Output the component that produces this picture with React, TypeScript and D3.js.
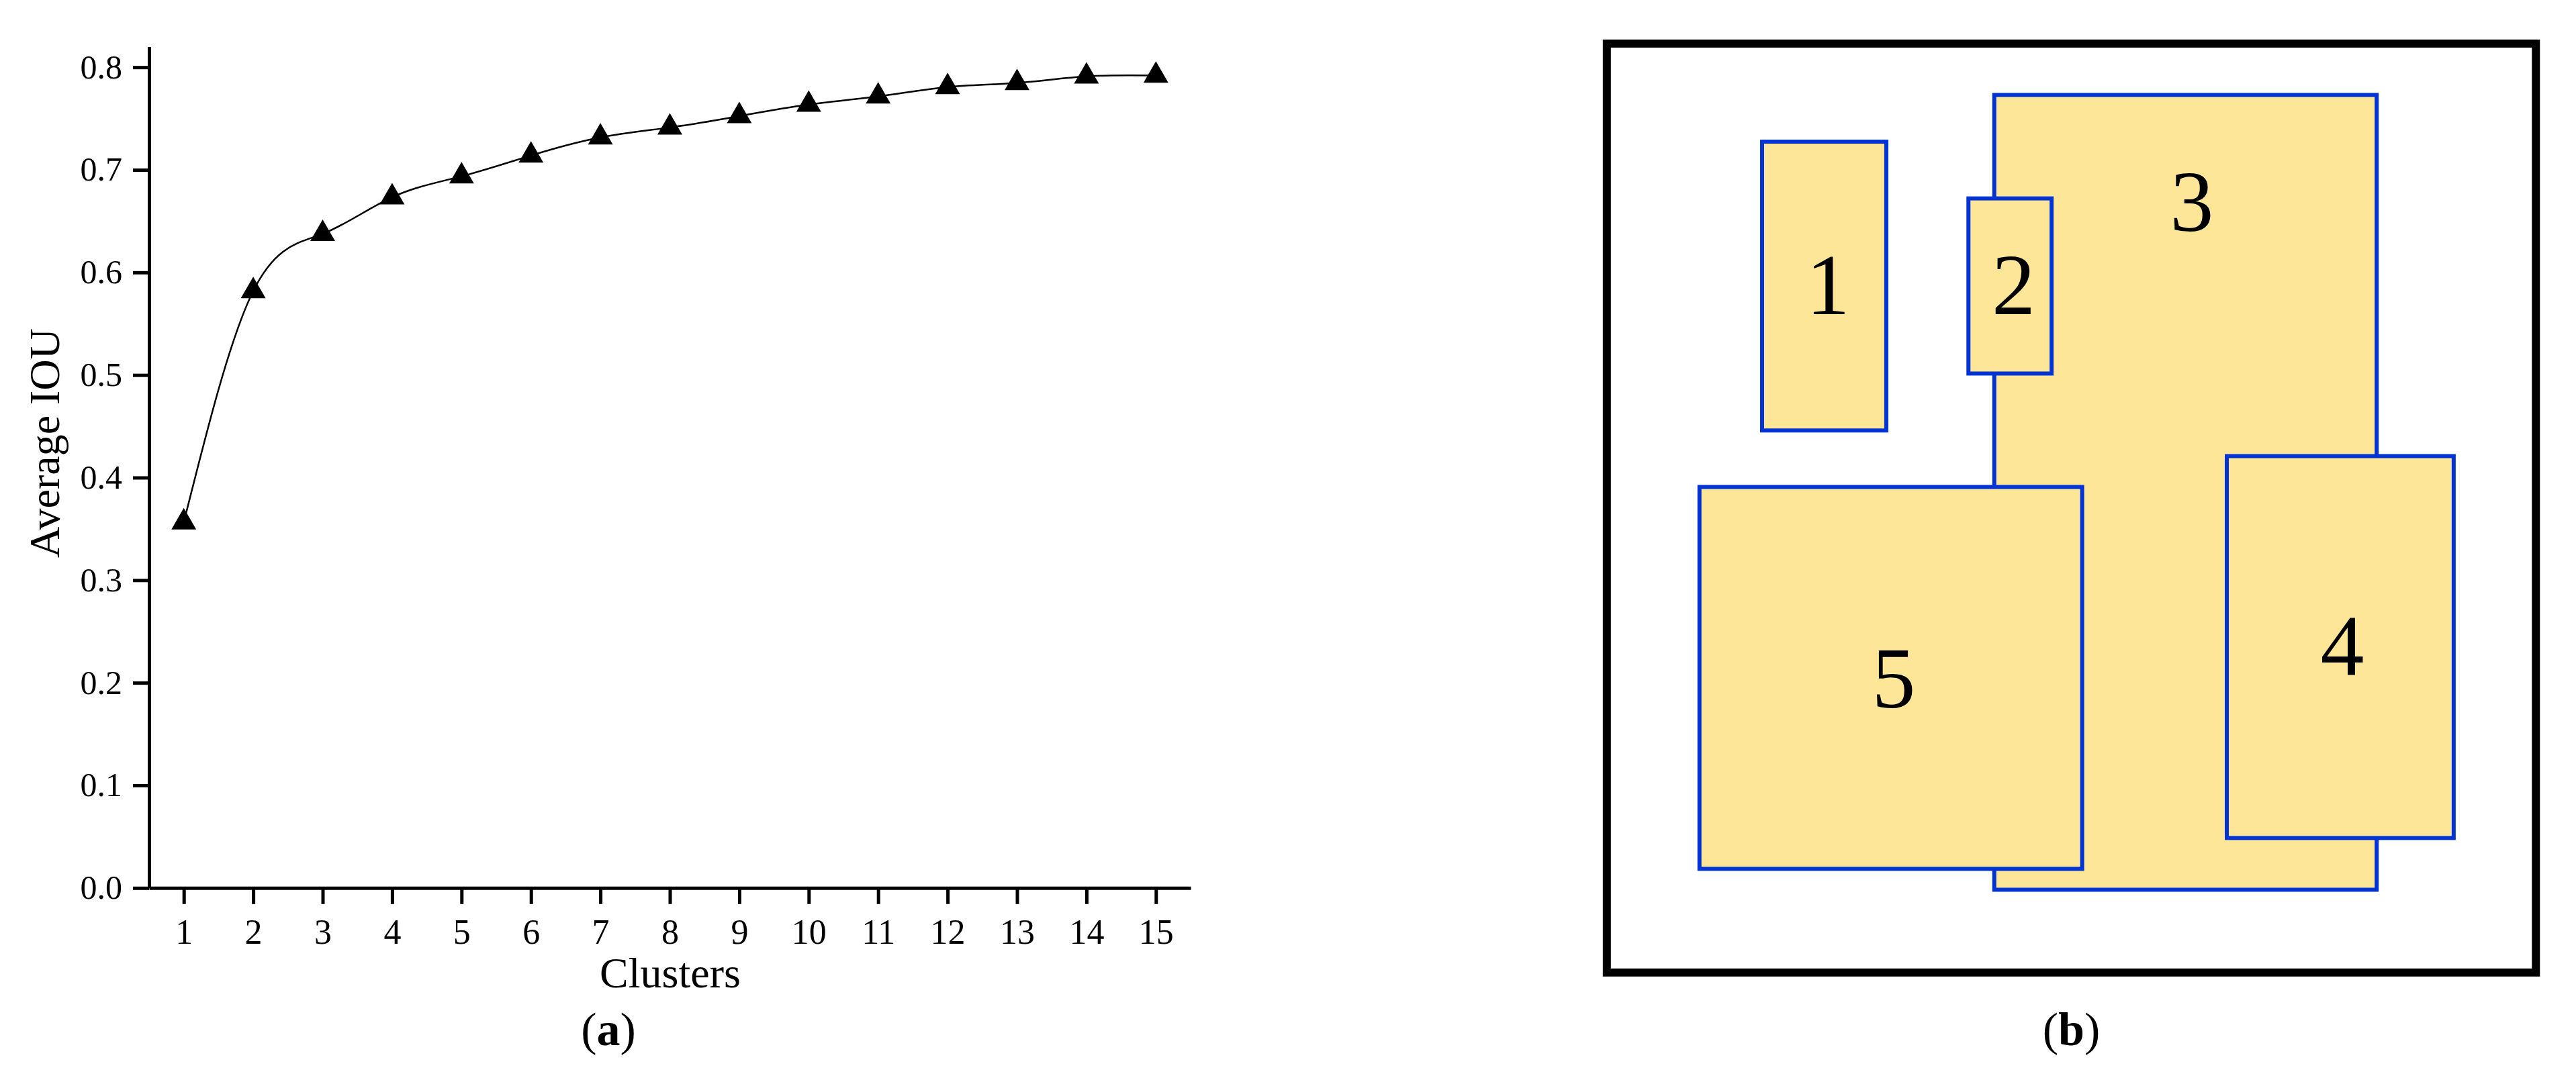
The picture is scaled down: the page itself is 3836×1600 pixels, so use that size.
import React, { useEffect, useRef } from "react";
import * as d3 from "d3";

const width = 3836;
const height = 1600;

// (a) average IOU against number of clusters
const clusters = [1, 2, 3, 4, 5, 6, 7, 8, 9, 10, 11, 12, 13, 14, 15];
const averageIou = [
  0.3565, 0.5819, 0.6376, 0.6733, 0.6937, 0.714, 0.7316, 0.7413, 0.7524,
  0.7636, 0.7716, 0.7807, 0.7847, 0.7911, 0.7919
];
const yTickValues = [0, 0.1, 0.2, 0.3, 0.4, 0.5, 0.6, 0.7, 0.8];

// (b) anchor boxes, in percent of the panel: [x0, y0, x1, y1]
const boxIds = ["1", "2", "3", "4", "5"];
const boxExtents = [
  [16.71, 10.56, 30.08, 41.65],
  [38.92, 16.67, 47.87, 35.52],
  [41.7, 5.53, 82.86, 91.09],
  [66.73, 44.41, 91.15, 85.52],
  [9.97, 47.73, 51.16, 88.84]
];
// label anchor (centre x, baseline y), percent of the panel
const boxLabelAt = [
  [23.8, 29.16],
  [43.78, 29.16],
  [62.97, 20.14],
  [79.16, 67.98],
  [30.88, 71.47]
];
const drawOrder = [2, 0, 1, 3, 4]; // box 3 sits underneath the others

const serif = '"Liberation Serif", "Times New Roman", Times, serif';

export default function App() {
  const xAxisRef = useRef<SVGGElement>(null);
  const yAxisRef = useRef<SVGGElement>(null);

  const x = d3.scaleLinear().domain([0.5, 15.5]).range([222, 1773]);
  const y = d3.scaleLinear().domain([0, 0.82]).range([1322.8, 69.6]);

  const px = d3.scaleLinear().domain([0, 100]).range([2392.8, 3776.3]);
  const py = d3.scaleLinear().domain([0, 100]).range([64.9, 1448.8]);

  const line = d3
    .line<number>()
    .x((d, i) => x(clusters[i]))
    .y(d => y(d))
    .curve(d3.curveNatural);

  const triangle = d3.symbol(d3.symbolTriangle, 591)();

  useEffect(() => {
    const xAxis = d3
      .axisBottom(x)
      .tickValues(clusters)
      .tickFormat(d3.format("d"))
      .tickSize(24)
      .tickSizeOuter(0)
      .tickPadding(22);
    const gx = d3.select(xAxisRef.current!).call(xAxis);
    gx.attr("font-family", serif).attr("font-size", 52);
    gx.select(".domain").attr("stroke-width", 5);
    gx.selectAll(".tick line").attr("stroke-width", 5);
    gx.selectAll(".tick text").attr("fill", "#000");

    const yAxis = d3
      .axisLeft(y)
      .tickValues(yTickValues)
      .tickFormat(d3.format(".1f"))
      .tickSize(24)
      .tickSizeOuter(0)
      .tickPadding(16);
    const gy = d3.select(yAxisRef.current!).call(yAxis);
    gy.attr("font-family", serif).attr("font-size", 50);
    gy.select(".domain").attr("stroke-width", 5);
    gy.selectAll(".tick line").attr("stroke-width", 5);
    gy.selectAll(".tick text").attr("fill", "#000");
  }, []);

  return (
    <div style={{ position: "absolute", left: 0, top: 0 }}>
      <svg width={width} height={height} style={{ display: "block", background: "#fff" }}>
        {/* (a) */}
        <path d={line(averageIou) || ""} fill="none" stroke="#000" strokeWidth={2.5} />
        {averageIou.map((v, i) => (
          <path key={i} d={triangle || ""} transform={`translate(${x(clusters[i])},${y(v)})`} fill="#000" />
        ))}
        <g ref={xAxisRef} transform={`translate(0,${y(0)})`} />
        <g ref={yAxisRef} transform={`translate(${x(0.5)},0)`} />
        <text
          transform="translate(88,660) rotate(-90)"
          textAnchor="middle"
          fontFamily={serif}
          fontSize={64}
        >
          Average IOU
        </text>
        <text x={998} y={1471} textAnchor="middle" fontFamily={serif} fontSize={64}>
          Clusters
        </text>
        <text x={906} y={1557} textAnchor="middle" fontFamily={serif} fontSize={70}>
          (<tspan fontWeight="bold">a</tspan>)
        </text>

        {/* (b) */}
        <rect
          x={px(0)}
          y={py(0)}
          width={px(100) - px(0)}
          height={py(100) - py(0)}
          fill="none"
          stroke="#000"
          strokeWidth={12}
        />
        {drawOrder.map(i => {
          const [x0, y0, x1, y1] = boxExtents[i];
          return (
            <rect
              key={boxIds[i]}
              x={px(x0)}
              y={py(y0)}
              width={px(x1) - px(x0)}
              height={py(y1) - py(y0)}
              fill="#fee699"
              stroke="#0033d4"
              strokeWidth={6}
            />
          );
        })}
        {boxIds.map((id, i) => (
          <text
            key={id}
            x={px(boxLabelAt[i][0])}
            y={py(boxLabelAt[i][1])}
            textAnchor="middle"
            fontFamily={serif}
            fontSize={130}
          >
            {id}
          </text>
        ))}
        <text x={px(50)} y={1557} textAnchor="middle" fontFamily={serif} fontSize={70}>
          (<tspan fontWeight="bold">b</tspan>)
        </text>
      </svg>
    </div>
  );
}
